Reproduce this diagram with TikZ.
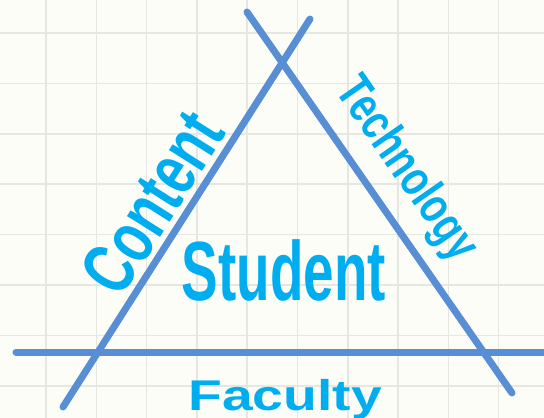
\documentclass[tikz,border=0pt]{standalone}
\usepackage{fontspec}
\setmainfont{Liberation Sans}
\usepackage{xcolor}
\usepackage{tikz}
\definecolor{paper}{RGB}{253,253,248}
\definecolor{gridline}{RGB}{231,231,225}
\definecolor{sideblue}{RGB}{88,142,212}
\definecolor{wordblue}{RGB}{0,174,239}

\begin{document}
\begin{tikzpicture}[x=1pt, y=-1pt,
	side/.style={sideblue, line width=7pt, line cap=round},
	word/.style={wordblue, font=\bfseries, inner sep=0pt, anchor=base}]
	\useasboundingbox (0,0) rectangle (544,418);
	\fill[paper] (0,0) rectangle (544,418);
	\clip (0,0) rectangle (544,418);
	% grid
	\foreach \gx in {0,...,9}
		\draw[gridline, line width=1.5pt] (46+50.3*\gx,0) -- (46+50.3*\gx,418);
	\foreach \gy in {0,...,7}
		\draw[gridline, line width=1.5pt] (0,33+50.4*\gy) -- (544,33+50.4*\gy);
	% the three sides
	\draw[side] (63,407) -- (310,19);
	\draw[side] (247,12) -- (512,393);
	\draw[side] (16,352) -- (560,352);
	% words
	\node[word, rotate=57.6] (content) at (174,216) {\fontsize{74}{74}\selectfont\scalebox{0.71}[1]{Content}};
	\node[word, rotate=-55.2] (technology) at (395,177) {\fontsize{50}{50}\selectfont\scalebox{0.76}[1]{Technology}};
	\node[word] (student) at (284,300) {\fontsize{84}{84}\selectfont\scalebox{0.653}[1]{Student}};
	\node[word] (faculty) at (285,410) {\fontsize{43}{43}\selectfont\scalebox{1.285}[1]{Faculty}};
\end{tikzpicture}
\end{document}
